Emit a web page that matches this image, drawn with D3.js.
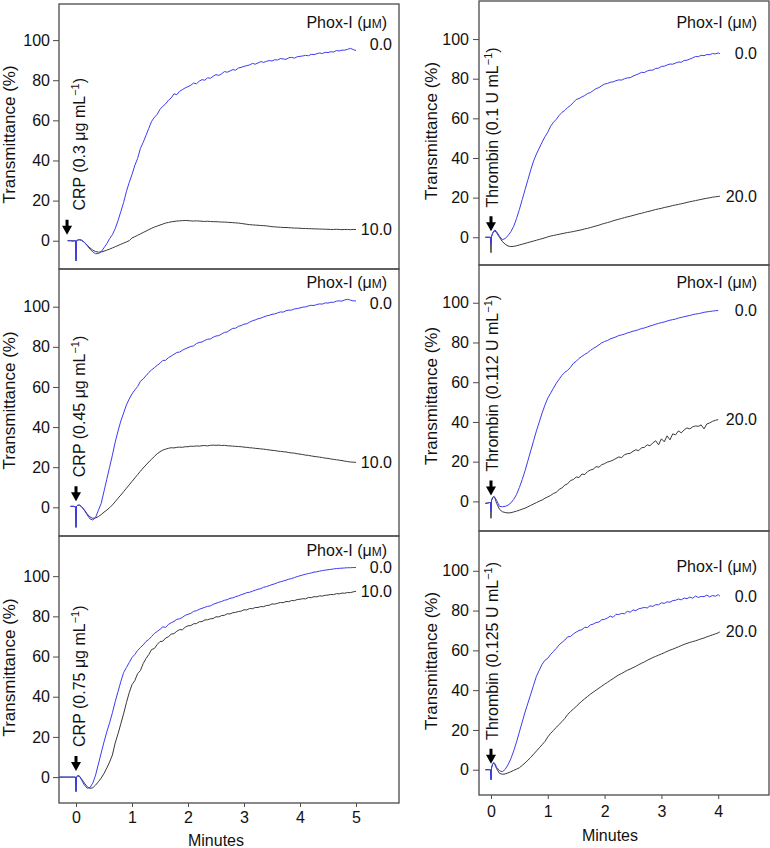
<!DOCTYPE html>
<html><head><meta charset="utf-8">
<script src="https://cdn.jsdelivr.net/npm/d3@7"></script>
<style>body{margin:0;background:#fff}svg{display:block}</style>
</head><body><svg id="c" width="770" height="848"></svg>
<script>
// ---------- DATA ----------
const timeLeft = [-0.3,-0.25,-0.2,-0.15,-0.1,-0.05,-0.02,-0.01,0,0.01,
 0.03,0.06,0.1,0.15,0.2,0.25,0.3,0.35,0.4,0.45,
 0.5,0.55,0.6,0.65,0.7,0.75,0.8,0.85,0.9,0.95,
 1,1.05,1.1,1.15,1.2,1.25,1.3,1.35,1.4,1.45,
 1.5,1.55,1.6,1.65,1.7,1.75,1.8,1.85,1.9,1.95,
 2,2.05,2.1,2.15,2.2,2.25,2.3,2.35,2.4,2.45,
 2.5,2.55,2.6,2.65,2.7,2.75,2.8,2.85,2.9,2.95,
 3,3.05,3.1,3.15,3.2,3.25,3.3,3.35,3.4,3.45,
 3.5,3.55,3.6,3.65,3.7,3.75,3.8,3.85,3.9,3.95,
 4,4.05,4.1,4.15,4.2,4.25,4.3,4.35,4.4,4.45,
 4.5,4.55,4.6,4.65,4.7,4.75,4.8,4.85,4.9,4.95,
 5];
const timeRight = [-0.15,-0.1,-0.05,-0.02,-0.01,0,0.01,0.03,0.05,0.07,
 0.1,0.15,0.2,0.25,0.3,0.35,0.4,0.45,0.5,0.55,
 0.6,0.65,0.7,0.75,0.8,0.85,0.9,0.95,
 1,1.05,1.1,1.15,1.2,1.25,1.3,1.35,1.4,1.45,
 1.5,1.55,1.6,1.65,1.7,1.75,1.8,1.85,1.9,1.95,
 2,2.05,2.1,2.15,2.2,2.25,2.3,2.35,2.4,2.45,
 2.5,2.55,2.6,2.65,2.7,2.75,2.8,2.85,2.9,2.95,
 3,3.05,3.1,3.15,3.2,3.25,3.3,3.35,3.4,3.45,
 3.5,3.55,3.6,3.65,3.7,3.75,3.8,3.85,3.9,3.95,
 4,4.03];

// CRP 0.3 µg/mL
const crp03_phox0 = [null,null,null,0,0,-0.3,0,0,-10,0,
 0.3,0.5,0.3,-0.8,-2.5,-4.2,-5.6,-6.5,-6.4,-5.5,
 -3.5,-1.5,1,3,6,10,14.5,19,24.5,29,
 33,37.5,41,46,49,52.5,56,59.5,61.5,63,
 65.5,67,68.2,70,71.2,73.2,72.8,74.5,75.3,76.2,
 76.8,77.5,78.6,78.2,79.5,80.3,80,81.2,81,82,
 82.8,82.4,83.2,84.3,84,84.6,85.3,85,86.1,86.4,
 86.9,87.3,87.6,88.4,88,88.6,89.3,88.9,89.4,89.8,
 89.6,90.2,90.1,90.8,90.6,90.4,91.2,91.4,91,91.7,
 91.9,92.1,92.4,92.2,92.9,92.8,93.2,93.6,93.3,93.9,
 93.8,94.2,94.1,94.8,94.6,95,95,95.4,95.9,95.3,
 94.8];
const crp03_phox10 = [null,null,null,0,0,0,0,0,-10,0,
 0.3,0.5,0.2,-0.8,-2.2,-3.6,-4.7,-5.4,-5.7,-5.6,
 -5.2,-4.7,-4.2,-3.6,-3,-2.4,-1.8,-1.2,-0.6,0,
 1.4,2,2.7,3.4,4.1,4.8,5.5,6.2,6.8,7.3,
 7.8,8.3,8.8,9.1,9.4,9.6,9.8,9.9,10,10.1,
 10,9.9,9.8,9.9,9.8,9.7,9.6,9.7,9.6,9.5,
 9.5,9.4,9.3,9.3,9.2,9.1,9,8.9,8.8,8.6,
 8.4,8.2,8,7.9,7.8,7.7,7.6,7.5,7.4,7.2,
 7,6.9,6.8,6.7,6.6,6.6,6.5,6.4,6.3,6.3,
 6.2,6.1,6.1,6,6,5.9,5.9,5.8,5.8,5.7,
 5.7,5.6,5.6,5.7,5.6,5.5,5.6,5.6,5.5,5.6,
 5.6];
// CRP 0.45 µg/mL
const crp045_phox0 = [null,null,null,null,0.5,0.5,0.3,0.3,-10,0.5,
 1,1.1,0.3,-1.5,-3.8,-5.8,-6.3,-5,-1.5,2,
 8,14,20,26,32.5,38,43,47,51,54,
 56.5,58.5,60.2,62.8,64,65.6,67.2,68.5,69.6,70.8,
 71.8,73.2,73.3,74.6,75.4,76.3,77.2,77.4,78.3,79,
 79.6,80.2,80.5,81.6,82.2,82.4,83.2,83.8,83.9,84.8,
 85.4,85.6,86.4,87.2,87.4,88.4,89.2,89.3,90.2,90.6,
 91.3,91.5,92.3,93,93.4,94,94.3,94.9,95.4,95.7,
 96.2,96.4,96.9,97.4,97.3,98,98.3,98.3,98.9,99.1,
 99.4,99.8,99.9,100.4,100.7,100.6,101.1,101.4,101.3,101.9,
 101.8,102.2,102.2,102.8,102.9,102.8,103.4,103.7,103.3,102.9,
 102.9];
const crp045_phox10 = [null,null,null,null,0.5,0.5,0.3,0.3,-10,0.5,
 1,1.1,0.3,-1.3,-3.3,-4.8,-5.5,-5.3,-4.6,-3.6,
 -2.4,-1.4,-0.2,1.2,2.8,4.5,6.1,7.8,9.5,11.2,
 12.9,14.6,16.3,18,19.6,21.1,22.6,24,25.4,26.7,
 27.7,28.5,29,29.4,29.7,29.6,29.9,30,29.9,30.2,
 30.2,30.5,30.4,30.6,30.5,30.7,30.8,30.6,30.9,31,
 30.9,31,30.8,30.9,30.7,30.6,30.5,30.4,30.3,30.2,
 30,29.9,29.7,29.6,29.4,29.3,29.1,29,28.8,28.6,
 28.4,28.3,28,27.9,27.7,27.6,27.3,27.1,27,26.7,
 26.5,26.3,26,25.9,25.6,25.4,25.2,25,24.8,24.5,
 24.4,24.1,23.9,23.7,23.5,23.3,23,22.8,22.6,22.5,
 22.4];
// CRP 0.75 µg/mL
const crp075_phox0 = [0,0,0,0,0,0,0,0,-7.2,0,
 0.8,0.6,-1.5,-4,-5.6,-5.2,-3,1,6.5,12,
 17.5,22.5,27,32,37.5,42.5,47.5,52,54.5,57,
 59.5,61,63,64.5,65.8,67.5,68.5,70,71.5,72.5,
 73.5,74.8,74.5,76,76.8,77.5,78.5,78.8,79.5,80.5,
 81,81.5,82.5,82.8,83.5,84,84.5,85,85.2,86,
 86.5,87,87.4,88,88.3,89,89.2,89.8,90.2,90.8,
 91.2,91.8,92,92.5,93,93.5,93.8,94.5,94.8,95.3,
 95.8,96.2,96.8,97.2,97.6,98,98.5,98.8,99.3,99.8,
 100.2,100.6,101,101.3,101.6,102,102.2,102.5,102.8,103,
 103.2,103.4,103.6,103.8,103.9,104,104.1,104.2,104.2,104.3,
 104.3];
const crp075_phox10 = [0,0,0,0,0,0,0,0,-7.2,0,
 0.5,0.4,-1,-3,-4.8,-5.6,-5.3,-4,-2.3,-0.5,
 1.8,4.5,7.5,11,17,21.5,26.5,31.5,37,42,
 46,48,51.5,53,56.5,59,61,63.5,64,66,
 67.5,67.6,69.2,69.8,71.2,71.4,72.6,73.4,73.3,74.6,
 75.3,75.4,76.3,76.4,77.3,77.4,78.2,78.3,78.8,78.9,
 79.8,79.7,80.4,80.5,81.3,81.2,81.8,82,82.4,82.6,
 83.3,83.2,83.9,83.8,84.4,84.4,84.9,84.8,85.4,85.5,
 86.2,86.1,86.5,86.9,86.8,87.4,87.3,87.9,87.8,88.4,
 88.5,88.8,88.7,89.4,89.3,89.8,89.7,90.2,90.1,90.5,
 90.6,90.9,90.8,91.3,91.2,91.6,91.5,91.9,91.8,92.2,
 92.5];
// Thrombin 0.1 U/mL
const thr01_phox0 = [null,0,0,0,0,-3,0.5,2,3.2,3.7,
 2.8,0.5,-1.3,-0.6,0.8,2.8,5.5,9.5,14,19,
 24,29,34,38.5,42,45,48,50.7,
 53,56,58,59.5,61.5,63,64,65.5,66.5,68,
 69.5,70,70.8,71.5,72.5,73,74,75,75.5,76.5,
 77.3,77.6,78.2,78.4,79,79.4,79.3,80,80.4,80.5,
 81.3,81.9,82.5,83.2,83.1,83.9,84.3,84.3,85.2,85.3,
 86.2,86.3,86.9,87.4,87.3,87.9,88.4,88.3,89.2,89.3,
 89.9,90.5,91.2,91.1,91.8,91.6,92.2,92.1,92.7,92.5,
 93,92.6];
const thr01_phox20 = [null,0,0,0,0,-7.8,0.5,2,3,3.2,
 2.2,0,-2.2,-3.5,-4.4,-4.7,-4.6,-4.3,-3.9,-3.5,
 -3.1,-2.7,-2.3,-1.9,-1.5,-1.1,-0.7,-0.3,
 0.2,0.6,0.9,1.2,1.5,1.8,2.1,2.4,2.6,2.9,
 3.2,3.5,3.8,4.2,4.5,4.9,5.3,5.7,6.1,6.6,
 7,7.4,7.8,8.3,8.7,9.1,9.5,9.9,10.3,10.6,
 11,11.4,11.8,12.1,12.5,12.9,13.2,13.6,14,14.3,
 14.6,15,15.3,15.6,16,16.3,16.6,16.9,17.2,17.6,
 17.9,18.2,18.5,18.8,19.1,19.4,19.7,19.9,20.2,20.4,
 20.6,20.7];
// Thrombin 0.112 U/mL
const thr0112_phox0 = [null,-1,-0.8,-0.5,-0.5,-5,0.5,2,2.6,2,
 0.5,-2.5,-2.7,-2.5,-1.9,-0.8,1,3.5,7,11,
 15.5,20.5,25.5,30.5,35.5,40,44.5,48.5,
 52,54.5,57,59.5,61.5,63.5,65,66,67.5,69.5,
 70.5,72,73,74,74.8,76,77,77.8,78.8,79.8,
 80.5,81,81.8,82.3,82.8,83.5,83.8,84.2,84.8,85.2,
 85.7,86,86.5,87,87.3,87.8,88.3,88.7,89.2,89.6,
 90,90.3,90.8,91.2,91.5,91.8,92.3,92.6,93,93.3,
 93.6,94,94.3,94.5,94.8,95.2,95.4,95.6,95.8,96,
 96.1,null];
const thr0112_phox20 = [null,-1,-0.8,-0.5,-0.5,-8.5,0.5,2,2.4,1.5,
 -1,-4,-5.2,-5.6,-5.8,-5.7,-5.3,-4.9,-4.4,-3.9,
 -3.4,-2.7,-2,-1.3,-0.6,0.1,0.7,1.6,
 2.3,3,4,4.6,6,6.8,8.2,8.9,10.5,11,
 12.3,12,13.8,13.5,15,15.8,16.2,17.5,17.2,18.5,
 19,19.8,20.2,20.8,21.6,22.4,22,23.5,24,24.2,
 25.2,26,25.5,27,27.2,28.5,28,29.5,30.5,28.5,
 31.5,30,33,31,34,33.5,35.5,34.5,36,37,
 36.5,37.5,38,37.8,38.5,36.5,39,39.5,40.3,40.8,
 41.2,null];
// Thrombin 0.125 U/mL
const thr0125_phox0 = [null,0,0,0,0,-5,1,3,3.7,3,
 1.2,-0.5,-1,0.2,2.5,5.5,9.5,14,19,24,
 29,33.5,38,42.5,47,50,53,55,
 56,58,59.5,61,62.8,64,65.2,66.8,67,68.2,
 69.2,70,70.4,71.6,71.5,72.8,73.2,74,74.2,75.4,
 75.6,76.3,77.2,76.6,78.1,78,78.6,78.4,79.6,79.2,
 80.3,80,80.9,81.2,81.6,81.3,82.4,82.1,83,82.9,
 83.9,83.6,84.4,84.2,85,85.2,85.8,85.4,86.3,86,
 86.8,86.2,87.3,86.6,87.1,87,87.8,86.9,87.6,87.2,
 88,87.2];
const thr0125_phox20 = [null,0,0,0,0,-5,1,2.8,3.3,2.5,
 0.5,-1.8,-2.3,-2.1,-1.6,-1,-0.3,0.3,1,2.2,
 3.4,4.8,6.2,7.8,9.4,11,12.6,14.2,
 16.5,18.3,19.8,21.3,22.8,24.2,25.8,27.8,29.2,30.5,
 31.8,33.2,34.5,35.7,36.8,38,39,40,41,42,
 43,43.9,44.9,45.8,46.8,47.7,48.4,49.2,50,50.6,
 51.3,52,52.8,53.5,54.2,55,55.7,56.4,57,57.6,
 58.2,58.8,59.5,60.1,60.6,61.2,61.8,62.4,63,63.5,
 64,64.4,64.8,65.3,65.8,66.2,66.8,67.3,67.8,68.3,
 68.8,69.3];

const yTickValues = [0, 20, 40, 60, 80, 100];
const xTickLeft = [0, 1, 2, 3, 4, 5];
const xTickRight = [0, 1, 2, 3, 4];
const agonistNames = ["CRP", "CRP", "CRP", "Thrombin", "Thrombin", "Thrombin"];
const agonistDoses = ["0.3 μg mL", "0.45 μg mL", "0.75 μg mL", "0.1 U mL", "0.112 U mL", "0.125 U mL"];
const phoxLabelsLeft = ["0.0", "10.0"];
const phoxLabelsRight = ["0.0", "20.0"];
const seriesByPanel = [
  [crp03_phox0, crp03_phox10],
  [crp045_phox0, crp045_phox10],
  [crp075_phox0, crp075_phox10],
  [thr01_phox0, thr01_phox20],
  [thr0112_phox0, thr0112_phox20],
  [thr0125_phox0, thr0125_phox20]
];

// ---------- LAYOUT ----------
const FONT = '"Liberation Sans", Arial, Helvetica, sans-serif';
const BLUE = "#3c3cf2", DARK = "#3a3a3a", FRAME = "#4a4a4a";
const columns = [
  {x0: 59, x1: 399, xDomain: [-0.3036, 5.768], ticks: xTickLeft, time: timeLeft, titleX: 15,
   minutesX: 216, minutesY: 846, xTickPad: 5, endX: 392, legendX: 387, agX: 9, tickPad: 3, labels: phoxLabelsLeft},
  {x0: 479, x1: 769, xDomain: [-0.211, 4.894], ticks: xTickRight, time: timeRight, titleX: 437,
   minutesX: 610, minutesY: 841, xTickPad: 7, endX: 757, legendX: 757, agX: 7, tickPad: 4, labels: phoxLabelsRight}
];
const panelLayout = [
  {col: 0, top: 4,   bottom: 269, yDomain: [-14.1, 118],   legendDy: 24, labelDy: [-6, 0], arrowT: -0.16},
  {col: 0, top: 269, bottom: 536, yDomain: [-14.3, 118.8], legendDy: 19, labelDy: [3, 0],  arrowT: 0},
  {col: 0, top: 536, bottom: 803, yDomain: [-12.9, 120],   legendDy: 20, labelDy: [0, 0],  arrowT: 0, xAxis: true},
  {col: 1, top: 1,   bottom: 265, yDomain: [-14, 119.2],   legendDy: 27, labelDy: [0, 0],  arrowT: 0},
  {col: 1, top: 265, bottom: 531, yDomain: [-14.9, 119],   legendDy: 23, labelDy: [0, 0],  arrowT: 0},
  {col: 1, top: 531, bottom: 795, yDomain: [-12.7, 120],   legendDy: 41, labelDy: [0, 0],  arrowT: 0, xAxis: true}
];

const svg = d3.select("#c");
svg.append("rect").attr("width", 770).attr("height", 848).attr("fill", "#fff");

panelLayout.forEach((p, i) => {
  const c = columns[p.col];
  const x = d3.scaleLinear().domain(c.xDomain).range([c.x0, c.x1]);
  const y = d3.scaleLinear().domain(p.yDomain).range([p.bottom, p.top]);
  const g = svg.append("g");

  const [ctrl, treated] = seriesByPanel[i];
  const line = d3.line().defined(d => d[1] != null).x(d => x(d[0])).y(d => y(d[1]));
  const pairs = arr => c.time.map((t, k) => [t, arr[k] === undefined ? null : arr[k]]);
  g.append("path").attr("d", line(pairs(treated))).attr("fill", "none")
    .attr("stroke", DARK).attr("stroke-width", 1).attr("stroke-linejoin", "round");
  g.append("path").attr("d", line(pairs(ctrl))).attr("fill", "none")
    .attr("stroke", BLUE).attr("stroke-width", 1).attr("stroke-linejoin", "round");

  g.append("rect").attr("x", c.x0).attr("y", p.top).attr("width", c.x1 - c.x0)
    .attr("height", p.bottom - p.top).attr("fill", "none").attr("stroke", FRAME).attr("stroke-width", 1.3);

  const ya = g.append("g").attr("transform", `translate(${c.x0},0)`)
    .call(d3.axisLeft(y).tickValues(yTickValues).tickSize(6).tickPadding(c.tickPad));
  ya.select(".domain").remove();
  ya.selectAll("line").attr("stroke", FRAME);
  ya.selectAll("text").attr("font-family", FONT).attr("font-size", 16).attr("fill", "#111");

  if (p.xAxis) {
    const xa = g.append("g").attr("transform", `translate(0,${p.bottom})`)
      .call(d3.axisBottom(x).tickValues(c.ticks).tickFormat(d3.format("d")).tickSize(4).tickPadding(c.xTickPad));
    xa.select(".domain").remove();
    xa.selectAll("line").attr("stroke", FRAME);
    xa.selectAll("text").attr("font-family", FONT).attr("font-size", 16).attr("fill", "#111");
    svg.append("text").attr("x", c.minutesX).attr("y", c.minutesY).attr("text-anchor", "middle")
      .attr("font-family", FONT).attr("font-size", 16).attr("fill", "#111").text("Minutes");
  }

  g.append("text").attr("transform", `translate(${c.titleX},${(p.top + p.bottom) / 2 - 2}) rotate(-90)`)
    .attr("text-anchor", "middle").attr("font-family", FONT).attr("font-size", 17).attr("fill", "#111")
    .text("Transmittance (%)");

  const ag = g.append("text").attr("transform", `translate(${x(0) + c.agX},${y(15)}) rotate(-90)`)
    .attr("font-family", FONT).attr("font-size", 16).attr("fill", "#111");
  ag.append("tspan").text(`${agonistNames[i]} (${agonistDoses[i]}`);
  ag.append("tspan").attr("font-size", 11).attr("dy", -6).text("\u22121");
  ag.append("tspan").attr("dy", 6).text(")");

  const ax = x(p.arrowT), ay = y(3);
  g.append("path").attr("d", `M${ax - 1.5},${ay - 15} h3 v6 h3.5 L${ax},${ay} L${ax - 5},${ay - 9} h3.5 Z`)
    .attr("fill", "#000");

  const lg = g.append("text").attr("x", c.legendX).attr("y", p.top + p.legendDy).attr("text-anchor", "end")
    .attr("font-family", FONT).attr("font-size", 16).attr("fill", "#111");
  lg.append("tspan").text("Phox-I (μ");
  lg.append("tspan").attr("font-size", 12).text("M");
  lg.append("tspan").text(")");

  [ctrl, treated].forEach((arr, k) => {
    const last = arr.filter(v => v != null).slice(-1)[0];
    g.append("text").attr("x", c.endX).attr("y", y(last) + p.labelDy[k]).attr("dy", "0.35em")
      .attr("text-anchor", "end").attr("font-family", FONT).attr("font-size", 16).attr("fill", "#111")
      .text(c.labels[k]);
  });
});
</script></body></html>
